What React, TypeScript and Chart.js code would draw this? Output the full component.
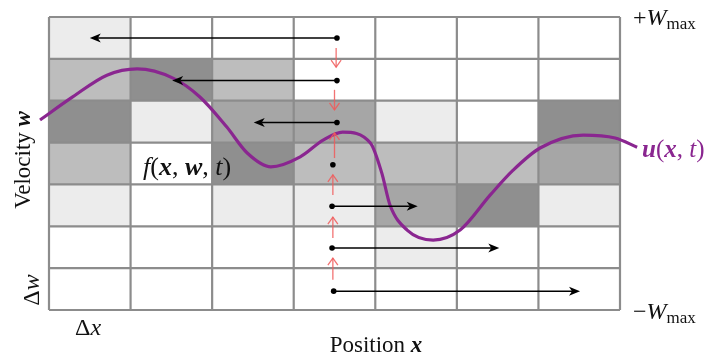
import React, { useEffect, useRef } from "react";
import { Chart, registerables } from "chart.js";

Chart.register(...registerables);

// Grid: 7 position columns x 7 velocity rows (rows listed top to bottom)
const columns = [0, 1, 2, 3, 4, 5, 6];
const rows = [6, 5, 4, 3, 2, 1, 0];
const shadePalette = ["#ffffff", "#ececec", "#bdbdbd", "#a6a6a6", "#8f8f8f"];
const cellShades = [
  [1, 0, 0, 0, 0, 0, 0],
  [2, 4, 2, 0, 0, 0, 0],
  [4, 1, 3, 3, 1, 0, 4],
  [2, 0, 4, 2, 2, 2, 3],
  [1, 0, 1, 1, 3, 4, 1],
  [0, 0, 0, 0, 1, 0, 0],
  [0, 0, 0, 0, 0, 0, 0],
];

// Characteristic dots and black arrows (one per row, top to bottom)
const dotX = [3.53, 3.53, 3.53, 3.48, 3.47, 3.47, 3.49];
const dotY = [6.5, 5.48, 4.48, 3.47, 2.48, 1.48, 0.45];
const arrowEndX = [0.5, 1.51, 2.51, null, 4.52, 5.52, 6.51];

// Red velocity-flux arrows
const redX = [3.52, 3.5, 3.5, 3.48, 3.48, 3.48];
const redFromY = [6.26, 5.26, 3.63, 2.75, 1.72, 0.72];
const redToY = [5.8, 4.78, 4.23, 3.23, 2.22, 1.24];

// Mean velocity curve u(x,t)
const curveX = [-0.11, 0.29, 0.71, 1.08, 1.52, 1.85, 2.18, 2.43, 2.72, 3.08, 3.36, 3.6, 3.94, 4.08, 4.18, 4.39, 4.71, 5.04, 5.41, 5.69, 6.02, 6.55, 6.94, 7.21];
const curveY = [4.54, 5.09, 5.61, 5.76, 5.54, 5.09, 4.37, 3.75, 3.42, 3.66, 4.06, 4.25, 3.99, 3.27, 2.51, 1.91, 1.67, 1.91, 2.75, 3.34, 3.87, 4.18, 4.11, 3.89];

const SERIF = '"Liberation Serif", "DejaVu Serif", serif';

type Part = { t: string; f: string; c?: string; dy?: number };

function drawRich(ctx: CanvasRenderingContext2D, parts: Part[], x: number, y: number, align: "left" | "center", color: string) {
  ctx.save();
  ctx.textBaseline = "alphabetic";
  ctx.textAlign = "left";
  let total = 0;
  for (const p of parts) {
    ctx.font = p.f;
    total += ctx.measureText(p.t).width;
  }
  let cx = align === "center" ? x - total / 2 : x;
  for (const p of parts) {
    ctx.font = p.f;
    ctx.fillStyle = p.c || color;
    ctx.fillText(p.t, cx, y + (p.dy || 0));
    cx += ctx.measureText(p.t).width;
  }
  ctx.restore();
}

const diagramPlugin = {
  id: "diagram",
  beforeDatasetsDraw(chart: any) {
    const ctx: CanvasRenderingContext2D = chart.ctx;
    const xs = chart.scales.x;
    const ys = chart.scales.y;
    ctx.save();
    rows.forEach((r, ri) => {
      columns.forEach((c, ci) => {
        const x0 = xs.getPixelForValue(c);
        const x1 = xs.getPixelForValue(c + 1);
        const y0 = ys.getPixelForValue(r + 1);
        const y1 = ys.getPixelForValue(r);
        ctx.fillStyle = shadePalette[cellShades[ri][ci]];
        ctx.fillRect(x0, y0, x1 - x0, y1 - y0);
      });
    });
    // grid lines
    ctx.strokeStyle = "#8c8c8c";
    ctx.lineWidth = 2.2;
    for (let c = 0; c <= columns.length; c++) {
      const px = xs.getPixelForValue(c);
      ctx.beginPath();
      ctx.moveTo(px, ys.getPixelForValue(rows.length));
      ctx.lineTo(px, ys.getPixelForValue(0));
      ctx.stroke();
    }
    for (let r = 0; r <= rows.length; r++) {
      const py = ys.getPixelForValue(r);
      ctx.beginPath();
      ctx.moveTo(xs.getPixelForValue(0), py);
      ctx.lineTo(xs.getPixelForValue(columns.length), py);
      ctx.stroke();
    }
    ctx.restore();
  },
  afterDatasetsDraw(chart: any) {
    const ctx: CanvasRenderingContext2D = chart.ctx;
    const xs = chart.scales.x;
    const ys = chart.scales.y;
    ctx.save();
    // red arrows
    ctx.strokeStyle = "rgba(240,90,90,0.85)";
    ctx.lineWidth = 1.3;
    redX.forEach((rx, i) => {
      const px = xs.getPixelForValue(rx);
      const pa = ys.getPixelForValue(redFromY[i]);
      const pb = ys.getPixelForValue(redToY[i]);
      const dir = pb > pa ? 1 : -1;
      ctx.beginPath();
      ctx.moveTo(px, pa);
      ctx.lineTo(px, pb);
      ctx.stroke();
      ctx.beginPath();
      ctx.moveTo(px - 5, pb - dir * 7);
      ctx.lineTo(px, pb);
      ctx.lineTo(px + 5, pb - dir * 7);
      ctx.stroke();
    });
    // black arrows and dots
    ctx.strokeStyle = "#000";
    ctx.fillStyle = "#000";
    ctx.lineWidth = 1.5;
    dotX.forEach((dx, i) => {
      const px = xs.getPixelForValue(dx);
      const py = ys.getPixelForValue(dotY[i]);
      const end = arrowEndX[i];
      if (end !== null) {
        const ex = xs.getPixelForValue(end);
        const dir = ex > px ? 1 : -1;
        ctx.beginPath();
        ctx.moveTo(px, py);
        ctx.lineTo(ex - dir * 8, py);
        ctx.stroke();
        ctx.beginPath();
        ctx.moveTo(ex, py);
        ctx.lineTo(ex - dir * 11, py - 4.5);
        ctx.lineTo(ex - dir * 8, py);
        ctx.lineTo(ex - dir * 11, py + 4.5);
        ctx.closePath();
        ctx.fill();
      }
      ctx.beginPath();
      ctx.arc(px, py, 2.8, 0, Math.PI * 2);
      ctx.fill();
    });

    // labels
    const R = (s: number) => `${s}px ${SERIF}`;
    const I = (s: number) => `italic ${s}px ${SERIF}`;
    const BI = (s: number) => `bold italic ${s}px ${SERIF}`;
    const black = "#111";
    const purple = "#8a2690";

    drawRich(ctx, [{ t: "f", f: I(26) }, { t: "(", f: R(26) }, { t: "x", f: BI(26) }, { t: ", ", f: R(26) }, { t: "w", f: BI(26) }, { t: ", ", f: R(26) }, { t: "t", f: I(26) }, { t: ")", f: R(26) }], 143, 175, "left", black);
    drawRich(ctx, [{ t: "u", f: BI(25) }, { t: "(", f: R(25) }, { t: "x", f: BI(25) }, { t: ", ", f: R(25) }, { t: "t", f: I(25) }, { t: ")", f: R(25) }], 642, 157, "left", purple);

    drawRich(ctx, [{ t: "+", f: R(24) }, { t: "W", f: I(24) }, { t: "max", f: R(17), dy: 4 }], 633, 25, "left", black);
    drawRich(ctx, [{ t: "\u2212", f: R(24) }, { t: "W", f: I(24) }, { t: "max", f: R(17), dy: 4 }], 633, 319, "left", black);

    drawRich(ctx, [{ t: "Position ", f: R(23) }, { t: "x", f: BI(23) }], 376, 352, "center", black);
    drawRich(ctx, [{ t: "\u0394", f: R(24) }, { t: "x", f: I(24) }], 88, 335, "center", black);

    ctx.save();
    ctx.translate(30, 160);
    ctx.rotate(-Math.PI / 2);
    drawRich(ctx, [{ t: "Velocity ", f: R(23) }, { t: "w", f: BI(23) }], 0, 0, "center", black);
    ctx.restore();

    ctx.save();
    ctx.translate(39, 290);
    ctx.rotate(-Math.PI / 2);
    drawRich(ctx, [{ t: "\u0394", f: R(24) }, { t: "w", f: I(24) }], 0, 0, "center", black);
    ctx.restore();

    ctx.restore();
  },
};

export default function App() {
  const ref = useRef<HTMLCanvasElement | null>(null);
  useEffect(() => {
    document.body.style.margin = "0";
    if (!ref.current) return;
    const chart = new Chart(ref.current, {
      type: "line",
      data: {
        datasets: [
          {
            data: curveX.map((x, i) => ({ x, y: curveY[i] })),
            borderColor: "#8a2690",
            borderWidth: 3.2,
            pointRadius: 0,
            cubicInterpolationMode: "monotone",
            fill: false,
            clip: false as any,
          },
        ],
      },
      options: {
        animation: false,
        responsive: false,
        layout: { padding: { left: 49, right: 87, top: 17, bottom: 44 } },
        plugins: { legend: { display: false }, tooltip: { enabled: false } },
        scales: {
          x: { type: "linear", min: 0, max: 7, display: false },
          y: { type: "linear", min: 0, max: 7, display: false },
        },
      },
      plugins: [diagramPlugin],
    });
    return () => chart.destroy();
  }, []);
  return (
    <div style={{ position: "absolute", left: 0, top: 0, width: 707, height: 354 }}>
      <canvas ref={ref} width={707} height={354} style={{ display: "block" }} />
    </div>
  );
}
